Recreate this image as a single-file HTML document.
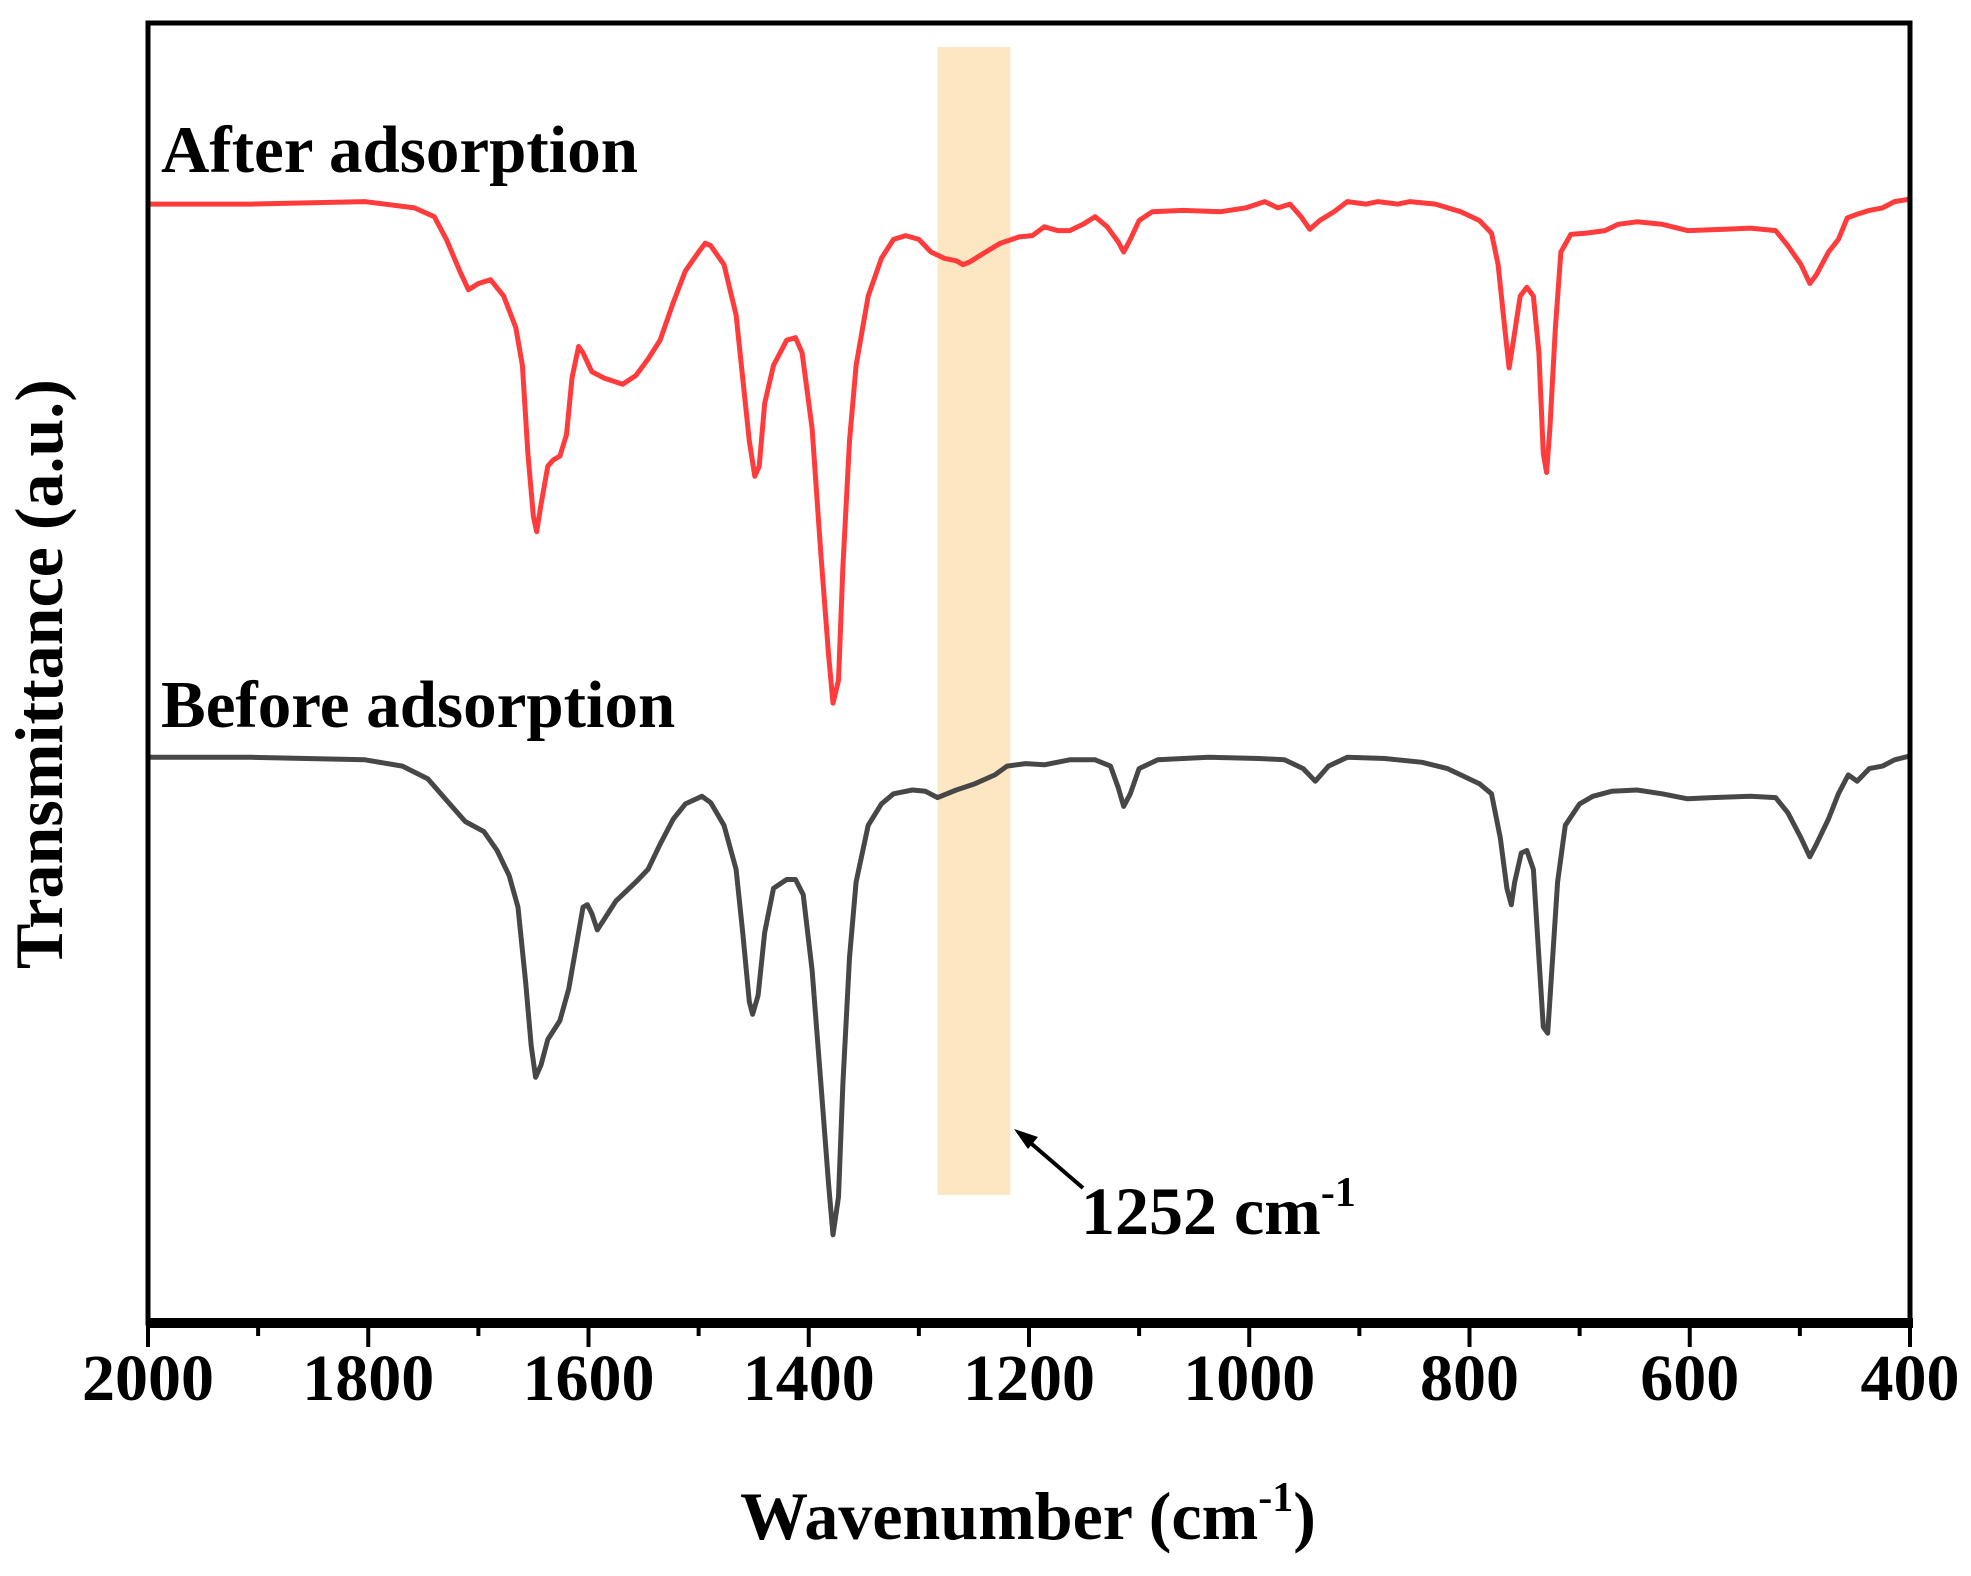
<!DOCTYPE html>
<html><head><meta charset="utf-8"><style>
html,body{margin:0;padding:0;background:#fff}
svg text{font-family:"Liberation Serif",serif;font-weight:bold;fill:#000}
</style></head><body>
<svg id="chart" width="1971" height="1571" viewBox="0 0 1971 1571" xmlns="http://www.w3.org/2000/svg"></svg>
<script>
const xTicks=[2000,1800,1600,1400,1200,1000,800,600,400];
const minorTicks=[1900,1700,1500,1300,1100,900,700,500];
const bandRange=[1283,1217];
const afterWn=[2000,1906,1803,1758,1740,1729,1717,1709,1700,1689,1677,1666,1660,1655,1650,1647,1643,1637,1632,1626,1620,1615,1609,1605,1597,1586,1569,1557,1546,1535,1523,1512,1500,1494,1489,1477,1466,1460,1454,1449,1445,1440,1432,1420,1412,1406,1397,1389,1382,1378,1373,1369,1363,1357,1346,1334,1323,1312,1300,1289,1277,1266,1260,1254,1243,1226,1209,1197,1186,1174,1163,1151,1140,1129,1119,1114,1108,1100,1088,1060,1026,1003,986,974,963,953,945,936,923,911,894,883,865,854,831,808,791,780,774,768,764,760,754,748,742,737,733,730,727,722,717,708,694,677,665,648,625,602,568,545,522,511,499,491,485,474,465,457,448,437,425,414,400];
const afterT=[88.8,88.8,89,88.5,87.8,86,83.5,82,82.5,82.8,81.5,79,76,69,64,62.8,65,68,68.5,68.8,70.5,75,77.5,77,75.5,75,74.5,75.2,76.5,78,81,83.5,85,85.7,85.5,84,80,75,70,67.2,68,73,76,78,78.2,77,71,61,53,49.2,51,60,70,76,81.5,84.5,86,86.3,86,85,84.5,84.3,84,84.2,84.8,85.7,86.2,86.3,87,86.7,86.7,87.2,87.8,87,85.8,85,86,87.5,88.2,88.3,88.2,88.5,89,88.5,88.8,87.8,86.8,87.5,88.2,89,88.8,89,88.8,89,88.8,88.2,87.5,86.5,84,79,75.8,78,81.5,82.2,81.5,77,69,67.5,71,79,85,86.4,86.5,86.7,87.2,87.4,87.2,86.7,86.8,86.9,86.7,85.5,84,82.5,83.2,85,86,87.7,88,88.3,88.5,89,89.2];
const beforeWn=[2000,1906,1803,1769,1746,1729,1712,1695,1683,1672,1664,1657,1652,1648,1643,1637,1626,1618,1611,1605,1601,1597,1592,1586,1575,1557,1546,1535,1523,1512,1497,1489,1477,1466,1460,1454,1451,1446,1440,1432,1420,1412,1405,1397,1389,1382,1378,1373,1369,1363,1357,1346,1334,1323,1306,1294,1283,1266,1249,1231,1220,1203,1186,1163,1140,1126,1119,1114,1108,1100,1083,1037,991,968,951,940,928,911,877,843,820,791,780,772,766,762,759,753,748,742,737,733,729,726,720,713,700,688,671,648,625,602,580,545,522,511,499,491,485,474,465,456,448,437,425,414,400];
const beforeT=[44.9,44.9,44.7,44.2,43.2,41.5,39.8,39,37.5,35.5,33,27,22,19.5,20.5,22.5,24,26.5,30,33,33.2,32.5,31.2,32,33.5,35,36,38,40,41.2,41.8,41.3,39.5,36,31,25.5,24.5,26,31,34.5,35.2,35.2,34,28,19,11,7,10,19,29,35,39.5,41.2,42,42.3,42.2,41.7,42.3,42.8,43.5,44.2,44.4,44.3,44.7,44.7,44.2,42.5,41,42,44,44.7,44.9,44.8,44.7,44,43,44.2,44.9,44.8,44.5,44,42.8,42,38.5,34.5,33.2,35,37.3,37.5,36,29,23.5,23,27,35,39.5,41.2,41.8,42.2,42.3,42,41.6,41.7,41.8,41.7,40.5,38.5,37,38,40,42,43.5,43,44,44.2,44.7,45];

const L=148,R=1910,T=23,B=1323;
const xs=w=>L+(2000-w)*(R-L)/1600;
const ys=v=>B-v*12.6;
const NS='http://www.w3.org/2000/svg';
const svg=document.getElementById('chart');
function mk(tag,attrs,parent){const e=document.createElementNS(NS,tag);for(const k in attrs)e.setAttribute(k,attrs[k]);(parent||svg).appendChild(e);return e;}

const band=mk('rect',{x:xs(bandRange[0]),y:47,width:xs(bandRange[1])-xs(bandRange[0]),height:1148,fill:'#fde7c3'});



function line(wn,t,color,name){
  let d='';wn.forEach((w,i)=>{d+=(i?'L':'M')+xs(w).toFixed(1)+','+ys(t[i]).toFixed(1);});
  const p=mk('path',{d:d,fill:'none',stroke:color,'stroke-width':5,'stroke-linejoin':'round'});
  
  
}
line(afterWn,afterT,'#ff3b3b','after-adsorption-line');
line(beforeWn,beforeT,'#474747','before-adsorption-line');

const frame=mk('rect',{x:L,y:T,width:R-L,height:B-T,fill:'none',stroke:'#000','stroke-width':5});


const baseAxis=mk('line',{x1:L-2,x2:R+3,y1:B,y2:B,stroke:'#000','stroke-width':10});



xTicks.forEach(w=>{
  const t=mk('line',{x1:xs(w),x2:xs(w),y1:B,y2:B+24,stroke:'#000','stroke-width':4});
  
  
  const lb=mk('text',{x:xs(w),y:1400,'text-anchor':'middle','font-size':66});
  lb.textContent=w;
  
  
});
minorTicks.forEach(w=>{
  const t=mk('line',{x1:xs(w),x2:xs(w),y1:B,y2:B+13,stroke:'#000','stroke-width':4});
  
  
});
</script>
<svg style="position:absolute;left:0;top:0" width="1971" height="1571">
<text x="1028" y="1539" text-anchor="middle" font-size="68">Wavenumber (cm<tspan dy="-28" font-size="42">-1</tspan><tspan dy="28">)</tspan></text>
<text transform="translate(62,674) rotate(-90)" text-anchor="middle" font-size="68">Transmittance (a.u.)</text>
<text x="161" y="172" font-size="67">After adsorption</text>
<text x="161" y="727" font-size="67">Before adsorption</text>
<text x="1081" y="1234" font-size="68">1252 cm<tspan dy="-28" font-size="42">-1</tspan></text>
<g>
<line x1="1083" y1="1188" x2="1026" y2="1139" stroke="#000" stroke-width="4"/>
<polygon points="1014,1129 1038,1137 1028,1149" fill="#000"/>
</g>
</svg>
</body></html>
